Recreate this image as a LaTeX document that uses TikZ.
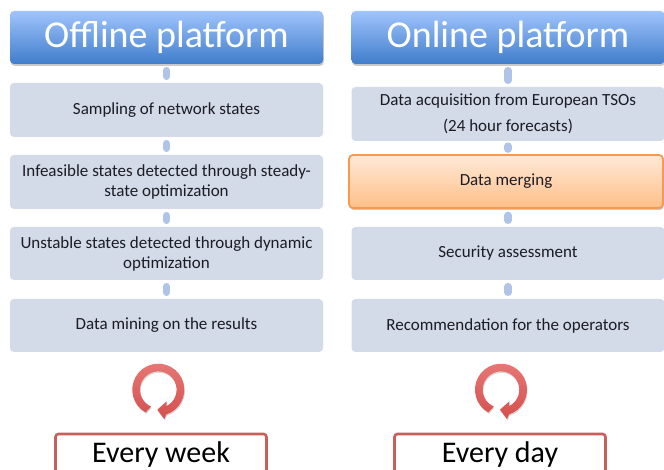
\documentclass[tikz,border=0pt]{standalone}
\usepackage{fontspec}
\setmainfont{Carlito}
\usetikzlibrary{shadows,calc}
\definecolor{bodyfill}{HTML}{D3DAE8}
\definecolor{headtop}{HTML}{A0C4FC}
\definecolor{headbot}{HTML}{3F7DCB}
\definecolor{stubcol}{HTML}{AFC4E6}
\definecolor{ringtop}{HTML}{E87876}
\definecolor{ringbot}{HTML}{D4504E}
\definecolor{boxred}{HTML}{C95F5B}
\definecolor{orangeedge}{HTML}{F79A50}
\definecolor{orangetop}{HTML}{FFE9D8}
\definecolor{orangebot}{HTML}{FFBF88}
\definecolor{txt}{HTML}{1C1C24}
\tikzset{
  x=1pt,y=1pt,
  softshadow/.style={drop shadow={shadow xshift=0.8pt,shadow yshift=-2pt,opacity=0.3,fill=black!70}},
  header/.style={rounded corners=4pt,minimum width=313pt,minimum height=53pt,inner sep=0pt,
    top color=headtop,bottom color=headbot,softshadow,text=white,font=\fontsize{38}{38}\selectfont},
  stepbox/.style={rounded corners=4pt,minimum width=313pt,minimum height=54pt,inner sep=0pt,
    fill=bodyfill,text=txt,align=center,font=\fontsize{17}{20}\selectfont},
  hilite/.style={rounded corners=4pt,minimum width=313pt,minimum height=53pt,inner sep=0pt,
    draw=orangeedge,line width=1.8pt,top color=orangetop,bottom color=orangebot,
    softshadow,text=txt,align=center,font=\fontsize{17}{20}\selectfont},
  stub/.style={line width=7.5pt,line cap=round,stubcol,shorten >=6.5pt,shorten <=6.5pt},
  freq/.style={rounded corners=3pt,draw=boxred,line width=2.6pt,fill=white,minimum width=211pt,minimum height=60pt,
    inner sep=0pt},
  freqtext/.style={inner sep=0pt,text=black,font=\fontsize{30}{30}\selectfont},
  ring/.style={top color=ringtop,bottom color=ringbot,
    drop shadow={shadow xshift=0.6pt,shadow yshift=-1.5pt,opacity=0.25,fill=black!60}},
}
\newcommand{\cyclering}[2]{%
  \begin{scope}[shift={(#1,#2)}]
  \path[ring] (241:26) arc[start angle=241,end angle=-72,radius=26]
    -- (6,-29.3) -- (-1,-20) -- (8.4,-11.6) -- (-64:18.3)
    arc[start angle=-64,end angle=247,radius=18.3] -- cycle;
  \end{scope}}
\begin{document}
\begin{tikzpicture}
\useasboundingbox (0,0) rectangle (664,470);
\clip (0,0) rectangle (664,470);
% left column
\node[header] (h1) at (166.5,432.5) {Offline platform};
\node[stepbox] (a1) at (166.5,360) {Sampling of network states};
\node[stepbox] (a2) at (166.5,288) {Infeasible states detected through steady-\\state optimization};
\node[stepbox,minimum height=53pt] (a3) at (166.5,216.5) {Unstable states detected through dynamic\\optimization};
\node[stepbox,minimum height=53pt] (a4) at (166.5,144.5) {Data mining on the results};
% right column
\node[header] (h2) at (508,432.5) {Online platform};
\node[stepbox,font=\fontsize{17}{26}\selectfont] (b1) at (508,356) {Data acquisition from European TSOs\\(24 hour forecasts)};
\node[hilite,minimum width=314pt] (b2) at (506,288.5) {Data merging};
\node[stepbox,minimum height=53pt] (b3) at (508,216.5) {Security assessment};
\node[stepbox,minimum height=53pt] (b4) at (508,144.5) {Recommendation for the operators};
% connectors
\foreach \p/\q in {h1/a1,a1/a2,a2/a3,a3/a4,h2/b1,b3/b4}
  \draw[stub] (\p.south) -- (\q.north);
\draw[stub,shorten >=5pt,shorten <=5pt] (b1.south) -- ($(b2.north)+(2,0)$);
\draw[stub] ($(b2.south)+(2,0)$) -- (b3.north);
% cycles
\cyclering{158.3}{80.3}
\cyclering{501}{80.3}
% frequency boxes
\node[freq] (c1) at (161,6) {};
\node[freq] (c2) at (500,6) {};
\node[freqtext,anchor=base] (t1) at (161,7) {Every week};
\node[freqtext,anchor=base] (t2) at (500,7) {Every day};
\end{tikzpicture}
\end{document}
